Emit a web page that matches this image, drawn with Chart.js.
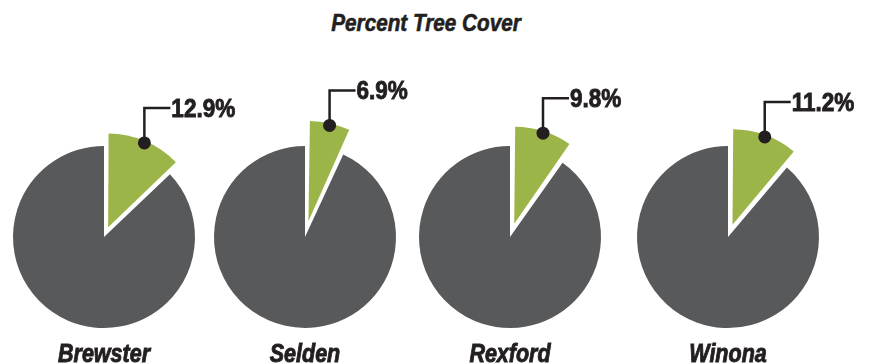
<!DOCTYPE html>
<html>
<head>
<meta charset="utf-8">
<script src="https://cdn.jsdelivr.net/npm/chart.js@4.4.0/dist/chart.umd.min.js"></script>
<style>
  html, body { margin: 0; padding: 0; background: #fff; }
  #wrap { position: relative; width: 877px; height: 364px; overflow: hidden; }
  #title {
    position: absolute; left: 0; top: 10px; width: 852px; text-align: center;
    font: italic bold 23px 'Liberation Sans', Arial, sans-serif;
    line-height: normal;
    color: #231f20;
    -webkit-text-stroke: 0.6px #231f20;
    transform: scaleX(0.9);
    transform-origin: 426px 0;
  }
  canvas { position: absolute; top: 0; }
</style>
</head>
<body>
<div id="wrap">
  <div id="title">Percent Tree Cover</div>
</div>
<script>
const towns = ["Brewster", "Selden", "Rexford", "Winona"];
const tree_cover = [12.9, 6.9, 9.8, 11.2];
const other_cover = [87.1, 93.1, 90.2, 88.8];

// layout (pixels)
const centers_x = [104, 305, 510, 728];
const pie_radius = 91;
const slice_offsets = [42, 64, 56, 52]; // chart.js moves the slice by offset / 4

const ink = "#231f20";
const gray = "#58595b";
const green = "#9cb548";
const font_family = "'Liberation Sans', Arial, sans-serif";

const canvas_w = 280;
const canvas_h = 364;

// condensed, heavy looking text: squeeze horizontally and thicken with a stroke
function squeezedText (ctx, text, x, y, sx) {
  ctx.save();
  ctx.scale(sx, 1);
  ctx.lineWidth = 0.9;
  ctx.strokeStyle = ctx.fillStyle;
  ctx.fillText(text, x / sx, y);
  ctx.strokeText(text, x / sx, y);
  ctx.restore();
}

const calloutPlugin = {
  id: "callout",
  afterDatasetsDraw (chart, args, opts) {
    const ctx = chart.ctx;
    const arc = chart.getDatasetMeta(0).data[0];
    const p = arc.getProps(["x", "y", "startAngle", "endAngle", "outerRadius"], true);
    const mid = (p.startAngle + p.endAngle) / 2;
    const shift = arc.options.offset / 4;
    const grow = shift * (1 - Math.sin(p.endAngle - p.startAngle));
    const dist = shift + p.outerRadius + grow - 2;
    const dx = p.x + Math.cos(mid) * dist;
    const dy = p.y + Math.sin(mid) * dist;
    const top_y = dy - 35;
    const end_x = dx + 26;

    ctx.save();
    ctx.strokeStyle = ink;
    ctx.lineWidth = 2.5;
    ctx.lineJoin = "miter";
    ctx.beginPath();
    ctx.moveTo(dx, dy);
    ctx.lineTo(dx, top_y);
    ctx.lineTo(end_x, top_y);
    ctx.stroke();

    ctx.fillStyle = ink;
    ctx.beginPath();
    ctx.arc(dx, dy, 6.5, 0, Math.PI * 2);
    ctx.fill();

    ctx.font = "bold 25px " + font_family;
    ctx.textAlign = "left";
    ctx.textBaseline = "alphabetic";
    squeezedText(ctx, opts.label, end_x + 1, top_y + 9, 0.9);

    ctx.font = "italic bold 25px " + font_family;
    ctx.textAlign = "center";
    squeezedText(ctx, opts.town, p.x, 362, 0.86);
    ctx.restore();
  }
};

const wrap = document.getElementById("wrap");

for (let i = 0; i < towns.length; i++) {
  const cv = document.createElement("canvas");
  cv.width = canvas_w;
  cv.height = canvas_h;
  cv.style.left = (centers_x[i] - canvas_w / 2) + "px";
  cv.style.width = canvas_w + "px";
  cv.style.height = canvas_h + "px";
  wrap.appendChild(cv);

  new Chart(cv, {
    type: "pie",
    plugins: [calloutPlugin],
    data: {
      labels: ["Tree cover", "Other"],
      datasets: [{
        data: [tree_cover[i], other_cover[i]],
        backgroundColor: [green, gray],
        borderWidth: 0,
        offset: [slice_offsets[i], 0],
        clip: false
      }]
    },
    options: {
      responsive: false,
      animation: false,
      events: [],
      radius: pie_radius,
      layout: { padding: { top: 120, bottom: 10, left: 0, right: 0 } },
      plugins: {
        legend: { display: false },
        tooltip: { enabled: false },
        title: { display: false },
        callout: { label: tree_cover[i].toFixed(1) + "%", town: towns[i] }
      }
    }
  });
}
</script>
</body>
</html>
